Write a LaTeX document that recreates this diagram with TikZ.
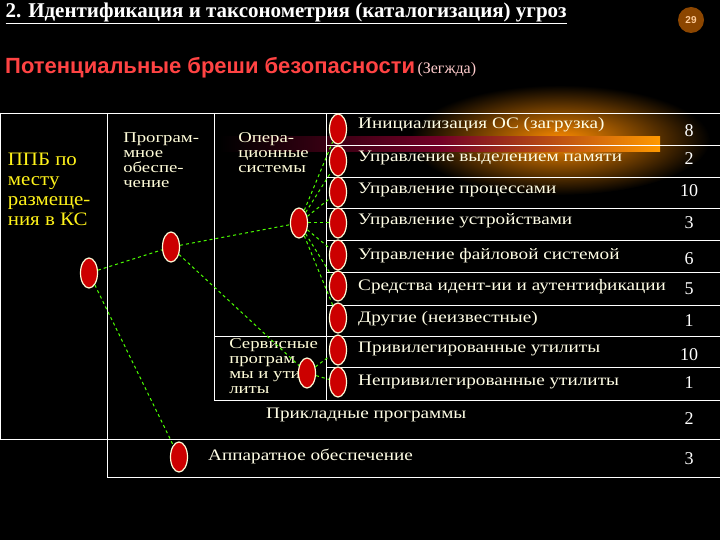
\documentclass[tikz,border=0pt]{standalone}
\usepackage{fontspec}
\usetikzlibrary{shapes.geometric}
\setmainfont{Liberation Serif}
\newfontfamily\hsans{Liberation Sans}
\begin{document}
\begin{tikzpicture}[x=1pt,y=-1pt,
  oval/.style={ellipse,draw=white!85!yellow,line width=1.2pt,fill=red!80!black,minimum width=17pt,minimum height=30pt,inner sep=0pt},
  conn/.style={draw=green!70!yellow,dashed,line width=1pt},
  rowtxt/.style={anchor=west,text=white!90!yellow,xscale=1.2,font=\fontsize{16}{16}\selectfont},
  numtxt/.style={anchor=center,text=white,font=\fontsize{18}{18}\selectfont},
  ltxt/.style={anchor=north west,text=yellow!90!white,align=left,xscale=1.1,font=\fontsize{19}{20}\selectfont},
  stxt/.style={anchor=north west,text=white!85!yellow,align=left,xscale=1.25,inner sep=0pt,font=\fontsize{15}{15}\selectfont},
  rule/.style={draw=white,line width=0.8pt}]
\useasboundingbox (0,0) rectangle (720,540);
\fill[black] (0,0) rectangle (720,540);
% glow
\shade[inner color=orange!90!yellow,outer color=black] (560,140) ellipse (150 and 55);
\shade[left color=black,right color=orange!80!yellow,middle color=purple!60!black] (220,137) rectangle (660,152);
\node[anchor=west,text=white,font=\fontsize{21}{21}\selectfont\bfseries] (title) at (2,13) {\underline{2. Идентификация и таксонометрия (каталогизация) угроз}};
\node[circle,fill=orange!55!black,text=orange!40!white,font=\hsans\bfseries,minimum size=26pt] (num) at (691,20) {29};
\node[anchor=west,inner sep=2pt] (sub) at (3,68) {{\hsans\bfseries\fontsize{22}{22}\selectfont\color{red!65!pink}Потенциальные бреши безопасности} {\color{pink!80!white}\fontsize{16}{16}\selectfont(Зегжда)}};
% lines
\draw[rule] (0,113) -- (720,113);
\draw[rule] (0,113) -- (0,439);
\draw[rule] (107,113) -- (107,477);
\draw[rule] (214,113) -- (214,400);
\draw[rule] (326,113) -- (326,400);
\foreach \y in {145,177,208,240,272,305,336,367} \draw[rule] (326,\y) -- (720,\y);
\draw[rule] (214,336) -- (326,336);
\draw[rule] (214,400) -- (720,400);
\draw[rule] (0,439) -- (720,439);
\draw[rule] (107,477) -- (720,477);
% left texts
\node[ltxt] (t1) at (4,150) {ППБ по\\месту\\размеще-\\ния в КС};
\node[stxt] (t2) at (123,132) {Програм-\\мное\\обеспе-\\чение};
\node[stxt] (t3) at (238,132) {Опера-\\ционные\\системы};
\node[stxt] (t4) at (229,338) {Сервисные\\програм\\мы и ути\\литы};
% ovals
\node[oval] (L) at (89,273) {};
\node[oval] (P) at (171,247) {};
\node[oval] (O) at (299,223) {};
\node[oval] (S) at (307,373) {};
\node[oval] (H) at (179,457) {};
\foreach \i/\y in {1/129,2/161,3/192,4/223,5/255,6/286,7/318,8/350,9/382}
  \node[oval] (r\i) at (338,\y) {};
\draw[conn] (L) -- (P); \draw[conn] (L) -- (H);
\draw[conn] (P) -- (O); \draw[conn] (P) -- (S);
\foreach \i in {1,...,7} \draw[conn] (O) -- (r\i);
\draw[conn] (S) -- (r8); \draw[conn] (S) -- (r9);
% row texts
\node[rowtxt] (a1) at (354,125) {Инициализация ОС (загрузка)};
\node[rowtxt] (a2) at (354,158) {Управление выделением памяти};
\node[rowtxt] (a3) at (354,190) {Управление процессами};
\node[rowtxt] (a4) at (354,221) {Управление устройствами};
\node[rowtxt] (a5) at (354,256) {Управление файловой системой};
\node[rowtxt] (a6) at (354,287) {Средства идент-ии и аутентификации};
\node[rowtxt] (a7) at (354,319) {Другие (неизвестные)};
\node[rowtxt] (a8) at (354,349) {Привилегированные утилиты};
\node[rowtxt] (a9) at (354,382) {Непривилегированные утилиты};
\node[rowtxt] (a10) at (262,415) {Прикладные программы};
\node[rowtxt] (a11) at (204,456) {Аппаратное обеспечение};
\foreach \n/\x/\y in {8/689/131,2/689/159,10/689/191,3/689/223,6/689/259,5/689/289,1/689/321,10/689/355,1/689/383,2/689/419,3/689/459}
  \node[numtxt] at (\x,\y) {\n};
\end{tikzpicture}
\end{document}
